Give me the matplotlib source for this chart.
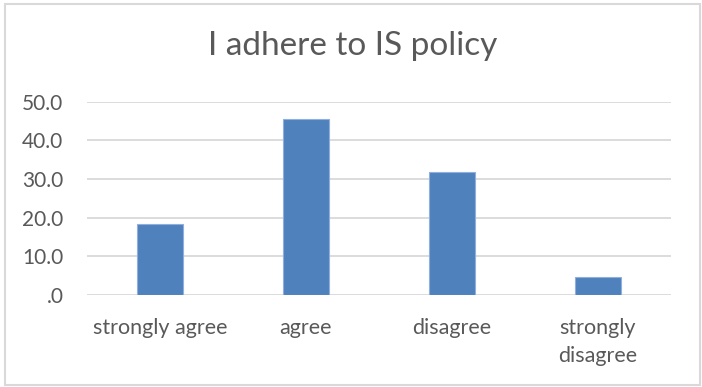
import matplotlib.pyplot as plt
from matplotlib.patches import Rectangle
from matplotlib.ticker import FuncFormatter

categories = ["strongly agree", "agree", "disagree", "strongly\ndisagree"]
values = [18.2, 45.5, 31.8, 4.5]
yticks = [0, 10, 20, 30, 40, 50]

plt.rcParams['font.family'] = ['Lato', 'DejaVu Sans']
txt = '#595959'

fig = plt.figure(figsize=(7.02, 3.87), dpi=100)
# chart frame
fig.patches.append(Rectangle((5 / 702, 2 / 387), 695 / 702, 381 / 387,
                             transform=fig.transFigure, fill=False,
                             edgecolor='#d9d9d9', linewidth=1.5))

ax = fig.add_axes([87 / 702, 1 - 294.7 / 387, 584 / 702, 193 / 387])
x = range(len(categories))
ax.bar(x, values, width=0.315, color='#4f81bd', edgecolor='#8fb0dc', linewidth=0.8, zorder=3)
ax.set_xlim(-0.5, len(categories) - 0.5)
ax.set_ylim(0, 50)
ax.set_yticks(yticks)
ax.yaxis.set_major_formatter(FuncFormatter(lambda v, p: '.0' if v == 0 else f'{v:.1f}'))
ax.set_xticks(list(x))
ax.set_xticklabels(categories, linespacing=1.5)
ax.grid(axis='y', color='#d9d9d9', linewidth=1.3, zorder=0)
for s in ax.spines.values():
    s.set_visible(False)
ax.tick_params(axis='y', length=0, colors=txt, labelsize=15, pad=17)
ax.tick_params(axis='x', length=0, colors=txt, labelsize=15.5, pad=17)

fig.text(353 / 702, 1 - 46 / 387, "I adhere to IS policy", ha='center', va='center',
         fontsize=24, color=txt)

fig.savefig('out.png', dpi=100)
